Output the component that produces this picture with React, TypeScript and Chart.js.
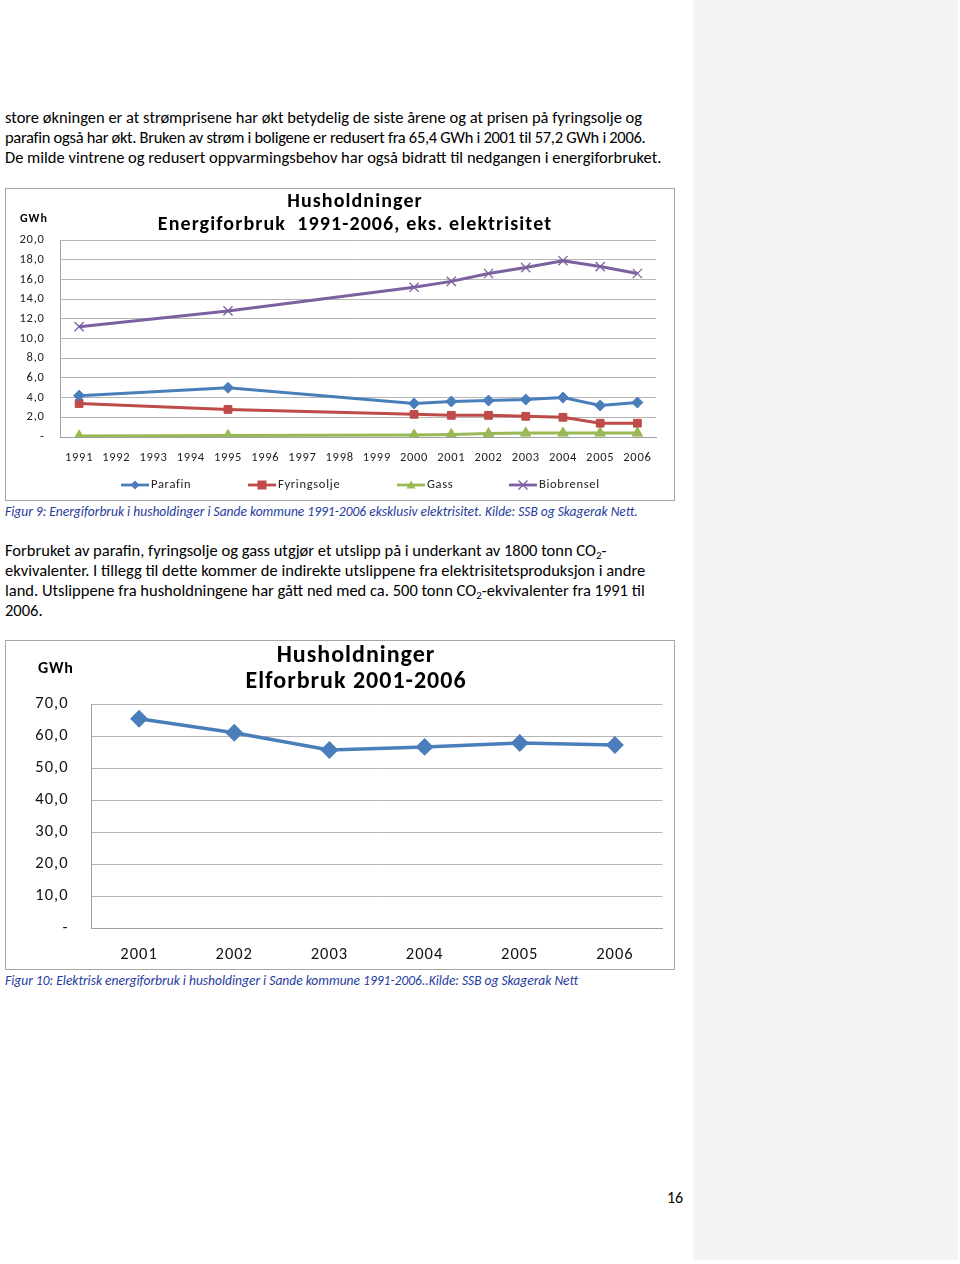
import React, { useEffect, useRef } from "react";
import { Chart, registerables } from "chart.js";

Chart.register(...registerables);

const FONT = 'Carlito, Lato, "Open Sans", sans-serif';

// ---- Figure 9 data ----
const years1 = ["1991","1992","1993","1994","1995","1996","1997","1998","1999","2000","2001","2002","2003","2004","2005","2006"];
const parafin = [4.2, null, null, null, 5.0, null, null, null, null, 3.4, 3.6, 3.7, 3.8, 4.0, 3.2, 3.5];
const fyringsolje = [3.4, null, null, null, 2.8, null, null, null, null, 2.3, 2.2, 2.2, 2.1, 2.0, 1.4, 1.4];
const gass = [0.1, null, null, null, 0.15, null, null, null, null, 0.2, 0.25, 0.35, 0.4, 0.4, 0.4, 0.4];
const biobrensel = [11.2, null, null, null, 12.8, null, null, null, null, 15.2, 15.8, 16.6, 17.2, 17.9, 17.3, 16.6];
const seriesNames1 = ["Parafin", "Fyringsolje", "Gass", "Biobrensel"];
const title1 = ["Husholdninger", "Energiforbruk  1991-2006, eks. elektrisitet"];

// ---- Figure 10 data ----
const years2 = ["2001", "2002", "2003", "2004", "2005", "2006"];
const elforbruk = [65.4, 61.0, 55.6, 56.6, 57.8, 57.2];
const title2 = ["Husholdninger", "Elforbruk 2001-2006"];

const BLUE = "#4a7ebb";
const RED = "#be4b48";
const GREEN = "#98b954";
const PURPLE = "#7d60a0";
const GRID = "#b5b5b5";

const tickFmt = (v: any) => (Number(v) === 0 ? "-" : Number(v).toFixed(1).replace(".", ","));

function drawMarker(ctx: CanvasRenderingContext2D, kind: string, x: number, y: number, r: number, color: string) {
  ctx.save();
  ctx.fillStyle = color;
  ctx.strokeStyle = color;
  ctx.beginPath();
  if (kind === "diamond") {
    ctx.moveTo(x, y - r); ctx.lineTo(x + r, y); ctx.lineTo(x, y + r); ctx.lineTo(x - r, y); ctx.closePath(); ctx.fill();
  } else if (kind === "square") {
    ctx.rect(x - r, y - r, 2 * r, 2 * r); ctx.fill();
  } else if (kind === "triangle") {
    ctx.moveTo(x, y - r); ctx.lineTo(x + r, y + r * 0.8); ctx.lineTo(x - r, y + r * 0.8); ctx.closePath(); ctx.fill();
  } else {
    ctx.lineWidth = 1.3;
    ctx.moveTo(x - r, y - r); ctx.lineTo(x + r, y + r); ctx.moveTo(x + r, y - r); ctx.lineTo(x - r, y + r); ctx.stroke();
  }
  ctx.restore();
}

const textSpacing = {
  id: "textSpacing",
  beforeDraw(chart: any, _a: any, opts: any) {
    (chart.ctx as any).letterSpacing = opts.value || "0px";
  },
};

const docDecor = {
  id: "docDecor",
  afterDraw(chart: any, _args: any, opts: any) {
    const ctx = chart.ctx as any;
    ctx.save();
    ctx.fillStyle = "#000";
    ctx.textAlign = "center";
    ctx.textBaseline = "middle";
    ctx.letterSpacing = opts.titleSpacing;
    ctx.font = `bold ${opts.titleSize}px ${FONT}`;
    (opts.titleLines || []).forEach((t: string, i: number) => {
      ctx.fillText(t, opts.titleX, opts.titleYs[i]);
    });
    ctx.textAlign = "left";
    ctx.letterSpacing = opts.unitSpacing;
    ctx.font = `bold ${opts.unitSize}px ${FONT}`;
    ctx.fillText("GWh", opts.unitX, opts.unitY);
    if (opts.legend) {
      ctx.letterSpacing = opts.legend.spacing;
      ctx.font = `${opts.legend.size}px ${FONT}`;
      opts.legend.items.forEach((it: any) => {
        ctx.strokeStyle = it.color;
        ctx.lineWidth = 2.8;
        ctx.beginPath();
        ctx.moveTo(it.x - 14, opts.legend.y);
        ctx.lineTo(it.x + 14, opts.legend.y);
        ctx.stroke();
        drawMarker(ctx, it.marker, it.x, opts.legend.y, 4.5, it.color);
        ctx.fillStyle = "#222";
        ctx.fillText(it.label, it.x + 16, opts.legend.y);
      });
    }
    ctx.restore();
  },
};

function Figure9() {
  const ref = useRef<HTMLCanvasElement>(null);
  useEffect(() => {
    if (!ref.current) return;
    const mk = (label: string, data: any[], color: string, pointStyle: string, radius: number, bw: number) => ({
      label, data, borderColor: color, backgroundColor: color, borderWidth: 3,
      pointStyle, pointRadius: radius, pointBorderWidth: bw, pointBackgroundColor: color, pointBorderColor: color,
      spanGaps: true, tension: 0,
    });
    const chart = new Chart(ref.current, {
      type: "line",
      data: {
        labels: years1,
        datasets: [
          mk(seriesNames1[0], parafin, BLUE, "rectRot", 5.5, 1),
          mk(seriesNames1[1], fyringsolje, RED, "rect", 5.5, 1),
          mk(seriesNames1[2], gass, GREEN, "triangle", 6, 1),
          mk(seriesNames1[3], biobrensel, PURPLE, "crossRot", 6.5, 1.3),
        ] as any,
      },
      options: {
        animation: false,
        responsive: false,
        maintainAspectRatio: false,
        layout: { padding: { top: 51, right: 18, left: 0, bottom: 0 } },
        plugins: {
          legend: { display: false },
          title: { display: false },
          tooltip: { enabled: false },
          textSpacing: { value: "0.7px" },
          docDecor: {
            titleLines: title1, titleX: 349, titleYs: [13, 36], titleSize: 20, titleSpacing: "1.1px",
            unitSize: 12, unitSpacing: "1px", unitX: 14, unitY: 30,
            legend: {
              y: 296, size: 12.5, spacing: "0.7px",
              items: [
                { label: seriesNames1[0], color: BLUE, marker: "diamond", x: 129 },
                { label: seriesNames1[1], color: RED, marker: "square", x: 256 },
                { label: seriesNames1[2], color: GREEN, marker: "triangle", x: 405 },
                { label: seriesNames1[3], color: PURPLE, marker: "cross", x: 517 },
              ],
            },
          },
        } as any,
        scales: {
          x: {
            offset: true,
            grid: { display: false, drawTicks: false },
            border: { display: true, color: "#a0a0a0" },
            ticks: { font: { family: FONT, size: 12.5 }, color: "#222", padding: 13, maxRotation: 0, autoSkip: false },
            afterFit: (s: any) => { s.height = 63; },
          },
          y: {
            min: 0, max: 20,
            grid: { color: GRID, drawTicks: false },
            border: { display: true, color: "#a0a0a0" },
            ticks: { stepSize: 2, callback: tickFmt, padding: 16, font: { family: FONT, size: 12.5 }, color: "#222" },
            afterFit: (s: any) => { s.width = 54.5; },
          },
        },
      },
      plugins: [textSpacing, docDecor],
    });
    return () => chart.destroy();
  }, []);
  return <canvas ref={ref} width={668} height={311} style={{ display: "block" }} />;
}

function Figure10() {
  const ref = useRef<HTMLCanvasElement>(null);
  useEffect(() => {
    if (!ref.current) return;
    const chart = new Chart(ref.current, {
      type: "line",
      data: {
        labels: years2,
        datasets: [
          {
            label: "Elforbruk", data: elforbruk, borderColor: BLUE, backgroundColor: BLUE, borderWidth: 3.5,
            pointStyle: "rectRot", pointRadius: 6.5, pointBackgroundColor: BLUE, pointBorderColor: BLUE, tension: 0,
          },
        ],
      },
      options: {
        animation: false,
        responsive: false,
        maintainAspectRatio: false,
        layout: { padding: { top: 63, right: 11.5, left: 0, bottom: 0 } },
        plugins: {
          legend: { display: false },
          title: { display: false },
          tooltip: { enabled: false },
          textSpacing: { value: "1px" },
          docDecor: {
            titleLines: title2, titleX: 350, titleYs: [15, 41], titleSize: 24, titleSpacing: "1px",
            unitSize: 16, unitSpacing: "0.8px", unitX: 32, unitY: 28,
          },
        } as any,
        scales: {
          x: {
            offset: true,
            grid: { display: false, drawTicks: false },
            border: { display: true, color: "#a0a0a0" },
            ticks: { font: { family: FONT, size: 16.5 }, color: "#111", padding: 17, maxRotation: 0, autoSkip: false },
            afterFit: (s: any) => { s.height = 41; },
          },
          y: {
            min: 0, max: 70,
            grid: { color: GRID, drawTicks: false },
            border: { display: true, color: "#a0a0a0" },
            ticks: { stepSize: 10, callback: tickFmt, padding: 23, font: { family: FONT, size: 16.5 }, color: "#111" },
            afterFit: (s: any) => { s.width = 85.5; },
          },
        },
      },
      plugins: [textSpacing, docDecor],
    });
    return () => chart.destroy();
  }, []);
  return <canvas ref={ref} width={668} height={328} style={{ display: "block" }} />;
}

const lineStyle: React.CSSProperties = { whiteSpace: "nowrap", height: 20, lineHeight: "20px" };
const sub: React.CSSProperties = { fontSize: 11, verticalAlign: "-3px", lineHeight: 0 };
const caption: React.CSSProperties = { position: "absolute", left: 5, fontSize: 13.5, fontStyle: "italic", color: "#1f3c9e", whiteSpace: "nowrap", lineHeight: "16px" };

export default function App() {
  return (
    <div style={{ position: "absolute", left: 0, top: 0, width: 960, height: 1264, background: "#fff", fontFamily: FONT, color: "#000", overflow: "hidden" }}>
      <div style={{ position: "absolute", left: 693, top: 0, width: 265, height: 1260, background: "#f3f3f3" }} />

      <div style={{ position: "absolute", left: 5, top: 107, fontSize: 16.5 }}>
        <div style={lineStyle}>store økningen er at strømprisene har økt betydelig de siste årene og at prisen på fyringsolje og</div>
        <div style={{ ...lineStyle, letterSpacing: "-0.3px" }}>parafin også har økt. Bruken av strøm i boligene er redusert fra 65,4 GWh i 2001 til 57,2 GWh i 2006.</div>
        <div style={lineStyle}>De milde vintrene og redusert oppvarmingsbehov har også bidratt til nedgangen i energiforbruket.</div>
      </div>

      <div style={{ position: "absolute", left: 5, top: 188, width: 668, height: 311, border: "1px solid #a6a6a6" }}>
        <Figure9 />
      </div>

      <div style={{ ...caption, top: 504 }}>
        Figur 9: Energiforbruk i husholdinger i Sande kommune 1991-2006 eksklusiv elektrisitet. Kilde: SSB og Skagerak Nett.
      </div>

      <div style={{ position: "absolute", left: 5, top: 540, fontSize: 16.5 }}>
        <div style={lineStyle}>Forbruket av parafin, fyringsolje og gass utgjør et utslipp på i underkant av 1800 tonn CO<sub style={sub}>2</sub>-</div>
        <div style={lineStyle}>ekvivalenter. I tillegg til dette kommer de indirekte utslippene fra elektrisitetsproduksjon i andre</div>
        <div style={lineStyle}>land. Utslippene fra husholdningene har gått ned med ca. 500 tonn CO<sub style={sub}>2</sub>-ekvivalenter fra 1991 til</div>
        <div style={lineStyle}>2006.</div>
      </div>

      <div style={{ position: "absolute", left: 5, top: 640, width: 668, height: 328, border: "1px solid #a6a6a6" }}>
        <Figure10 />
      </div>

      <div style={{ ...caption, top: 973 }}>
        Figur 10: Elektrisk energiforbruk i husholdinger i Sande kommune 1991-2006..Kilde: SSB og Skagerak Nett
      </div>

      <div style={{ position: "absolute", left: 667, top: 1188, fontSize: 16, lineHeight: "20px" }}>16</div>
    </div>
  );
}
